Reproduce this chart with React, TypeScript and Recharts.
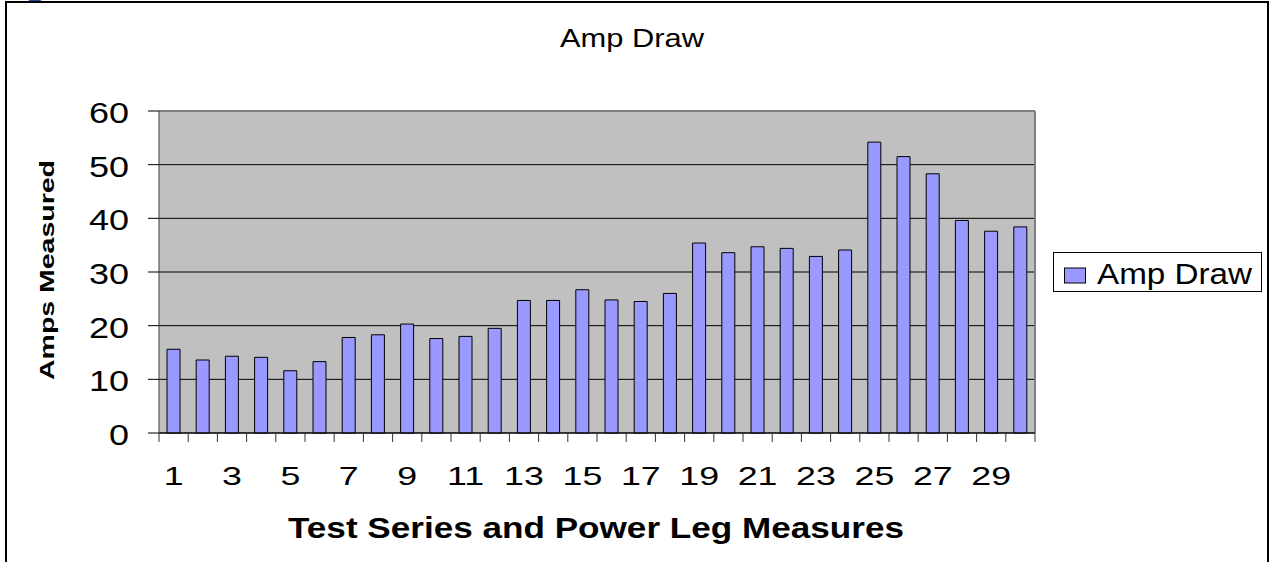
import React from 'react'
import {
  BarChart, Bar, XAxis, YAxis, CartesianGrid, ReferenceLine, Legend,
} from 'recharts'

const CATEGORIES = [
  1, 2, 3, 4, 5, 6, 7, 8, 9, 10, 11, 12, 13, 14, 15,
  16, 17, 18, 19, 20, 21, 22, 23, 24, 25, 26, 27, 28, 29, 30,
]
const AMP_DRAW = [
  15.6, 13.6, 14.3, 14.1, 11.6, 13.3, 17.8, 18.3, 20.3, 17.6,
  18.0, 19.5, 24.7, 24.7, 26.7, 24.8, 24.5, 26.0, 35.4, 33.6,
  34.7, 34.4, 32.9, 34.1, 54.2, 51.5, 48.3, 39.6, 37.6, 38.4,
]
const Y_TICKS = [0, 10, 20, 30, 40, 50, 60]

const TITLE = 'Amp Draw'
const SERIES_NAME = 'Amp Draw'
const X_TITLE = 'Test Series and Power Leg Measures'
const Y_TITLE = 'Amps Measured'

const data = CATEGORIES.map((n, i) => ({ n, amps: AMP_DRAW[i] }))

const FONT = '"Liberation Sans", Arial, sans-serif'
const BAR_FILL = '#9999FF'

// excel-style category ticks: lines on the band edges, label every other one
function XTick(props: any) {
  const { x, y, payload, index } = props
  const half = payload?.offset || 14.6
  const last = index === CATEGORIES.length - 1
  return (
    <g>
      <line x1={x - half} x2={x - half} y1={y} y2={y + 9} stroke="#333" />
      {last && <line x1={x + half} x2={x + half} y1={y} y2={y + 9} stroke="#333" />}
      {index % 2 === 0 && (
        <g transform={`translate(${x},${y + 52}) scale(1.35,1)`}>
          <text textAnchor="middle" fontSize={26.5} fontFamily={FONT} fill="#000">{payload.value}</text>
        </g>
      )}
    </g>
  )
}

function YTick(props: any) {
  const { x, y, payload } = props
  return (
    <g transform={`translate(${x},${y + 1.5}) scale(1.2,1)`}>
      <text textAnchor="end" dy="0.355em" fontSize={30} fontFamily={FONT} fill="#000">{payload.value}</text>
    </g>
  )
}

function LegendBox() {
  return (
    <svg width={209} height={40} style={{ display: 'block' }}>
      <rect x={0.5} y={0.5} width={208} height={39} fill="#fff" stroke="#000" />
      <rect x={11.5} y={16} width={21} height={15} fill={BAR_FILL} stroke="#000" />
      <text x={44} y={32} fontSize={29} fontFamily={FONT} fill="#000"
        textLength={155} lengthAdjust="spacingAndGlyphs">{SERIES_NAME}</text>
    </svg>
  )
}

export default function App() {
  return (
    <div style={{
      position: 'absolute', left: 0, top: 0, width: 1274, height: 562,
      overflow: 'hidden', background: '#fff',
    }}>
      <div style={{
        position: 'absolute', left: 27, top: -6, width: 16, height: 8,
        borderRadius: '50%', background: '#2a4a9a',
      }} />
      <div style={{
        position: 'absolute', left: 5, top: 1, width: 1264, height: 640,
        border: '2px solid #000', boxSizing: 'border-box',
      }} />

      <div style={{ position: 'absolute', left: 0, top: 0 }}>
        <BarChart
          width={1274} height={562} data={data}
          margin={{ top: 111, right: 239, bottom: 69, left: 0 }}
          barSize={13}
        >
          <CartesianGrid vertical={false} stroke="#000" fill="#C0C0C0" fillOpacity={1} />
          <XAxis
            dataKey="n" interval={0} height={60}
            tickSize={0} tickMargin={0} tickLine={false}
            axisLine={{ stroke: '#000' }}
            tick={<XTick />}
          />
          <YAxis
            width={159} domain={[0, 60]} ticks={Y_TICKS} interval={0}
            tickSize={11} tickMargin={19}
            tickLine={{ stroke: '#000' }}
            axisLine={{ stroke: '#404040' }}
            tick={<YTick />}
          />
          <ReferenceLine y={60} stroke="#808080" strokeWidth={2} />
          <ReferenceLine x={CATEGORIES[CATEGORIES.length - 1]} position="end" stroke="#808080" strokeWidth={2} />
          <Legend
            layout="horizontal" align="center" verticalAlign="middle"
            wrapperStyle={{ left: 1053, top: 252, width: 209, height: 40 }}
            content={() => <LegendBox />}
          />
          <Bar dataKey="amps" name={SERIES_NAME} fill={BAR_FILL} stroke="#000" strokeWidth={1}
            isAnimationActive={false} />
        </BarChart>
      </div>

      <svg width={1274} height={562} style={{ position: 'absolute', left: 0, top: 0, pointerEvents: 'none' }}>
        <text x={560} y={46.5} fontSize={25.5} fontFamily={FONT} fill="#000"
          textLength={144} lengthAdjust="spacingAndGlyphs">{TITLE}</text>
        <text x={288} y={538} fontSize={30} fontWeight="bold" fontFamily={FONT} fill="#000"
          textLength={616} lengthAdjust="spacingAndGlyphs">{X_TITLE}</text>
        <text transform="translate(53.5,380) rotate(-90)" x={0} y={0} fontSize={21} fontWeight="bold"
          fontFamily={FONT} fill="#000" textLength={220} lengthAdjust="spacingAndGlyphs">{Y_TITLE}</text>
      </svg>
    </div>
  )
}
